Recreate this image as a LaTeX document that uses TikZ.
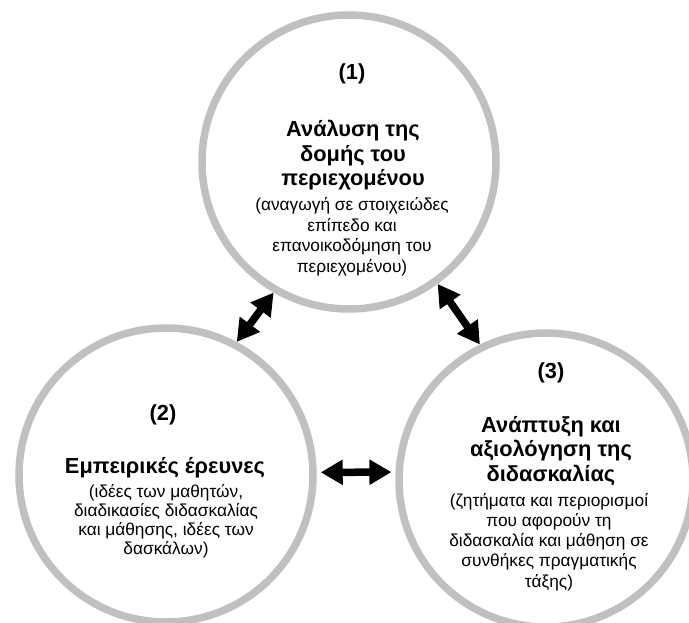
\documentclass[tikz,border=0pt]{standalone}
\usepackage{fontspec}
\setmainfont{Liberation Sans}
\usetikzlibrary{arrows.meta}
\definecolor{ringgray}{RGB}{192,192,192}
\newcommand\linestack[2]{\vtop{\baselineskip=#1\relax\lineskiplimit=-100pt\relax\lineskip=0pt\relax\halign{\hfil##\hfil\cr#2\crcr}}}
\tikzset{
  ring/.style={circle, draw=ringgray, line width=7.5bp, minimum size=294bp, inner sep=0pt},
  numlbl/.style={font=\bfseries\fontsize{21.8bp}{24.5bp}\selectfont, anchor=base, inner sep=0pt},
  ttl/.style={font=\bfseries\fontsize{21.8bp}{24.5bp}\selectfont, anchor=base, inner sep=0pt},
  subt/.style={font=\fontsize{17.3bp}{20.5bp}\selectfont, anchor=base, inner sep=0pt},
  subtb/.style={font=\fontsize{17.3bp}{19bp}\selectfont, anchor=base, inner sep=0pt},
  dbl/.style={line width=7.5bp, {Triangle[length=22bp,width=24bp]}-{Triangle[length=22bp,width=24bp]}}
}
\begin{document}
\begin{tikzpicture}[x=1bp,y=-1bp]
\useasboundingbox (0,0) rectangle (689,623);
\clip (0,0) rectangle (689,623);
% circles
\node[ring] (c1) at (349,162) {};
\node[ring] (c2) at (166,475) {};
\node[ring] (c3) at (546,480) {};
% circle 1 text
\node[numlbl] (n1) at (352,80) {(1)};
\node[ttl] (t1) at (353,137) {\linestack{24.5bp}{Ανάλυση της\cr δομής του\cr περιεχομένου}};
\node[subt] (s1) at (352,210.5) {\linestack{20.5bp}{(αναγωγή σε στοιχειώδες\cr επίπεδο και\cr επανοικοδόμηση του\cr περιεχομένου)}};
% circle 2 text
\node[numlbl] (n2) at (163,420) {(2)};
\node[ttl] (t2) at (165,473) {Εμπειρικές έρευνες};
\node[subtb] (s2) at (166,497) {\linestack{19bp}{(ιδέες των μαθητών,\cr διαδικασίες διδασκαλίας\cr και μάθησης, ιδέες των\cr δασκάλων)}};
% circle 3 text
\node[numlbl] (n3) at (551,378) {(3)};
\node[ttl] (t3) at (551,432) {\linestack{24.5bp}{Ανάπτυξη και\cr αξιολόγηση της\cr διδασκαλίας}};
\node[subt] (s3) at (549,506) {\linestack{20.3bp}{(ζητήματα και περιορισμοί\cr που αφορούν τη\cr διδασκαλία και μάθηση σε\cr συνθήκες πραγματικής\cr τάξης)}};
% arrows
\draw[dbl] (c1.240) -- (c2.62);
\draw[dbl] (c1.306) -- (c3.116);
\draw[dbl, shorten <=4bp, shorten >=4bp] (c2.1) -- (c3.177);
\end{tikzpicture}
\end{document}
